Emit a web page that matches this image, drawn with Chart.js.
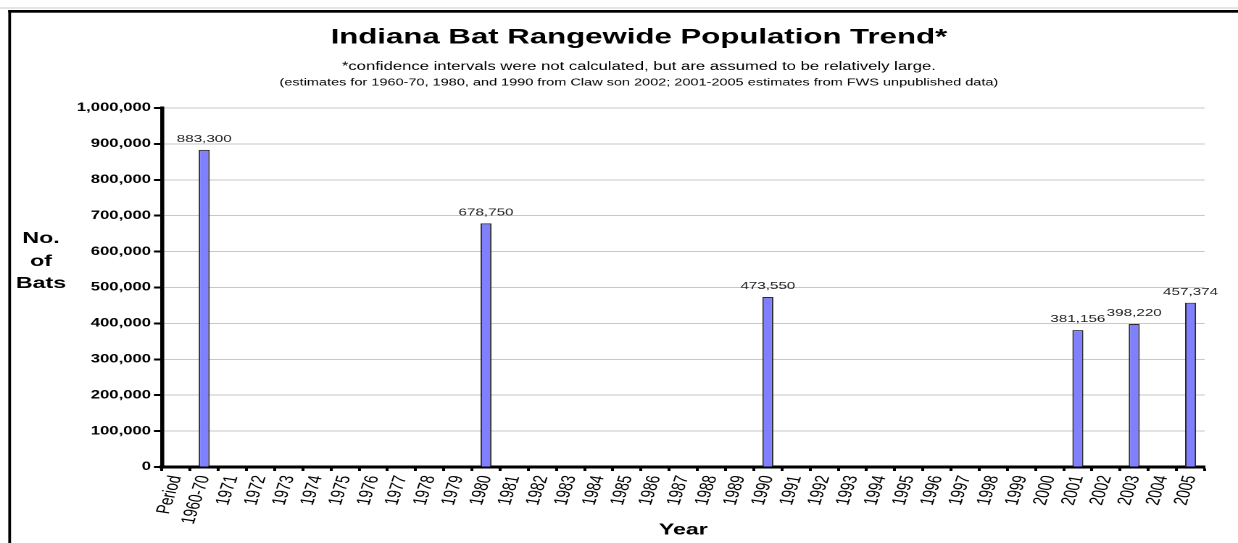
<!DOCTYPE html>
<html>
<head>
<meta charset="utf-8">
<script src="https://cdn.jsdelivr.net/npm/chart.js@4.4.1/dist/chart.umd.min.js"></script>
<style>
  html, body { margin: 0; padding: 0; background: #fff; overflow: hidden; }
  canvas { display: block; }
</style>
</head>
<body>
<!-- the original picture is a stretched Excel chart, so the canvas is drawn narrow and widened by css -->
<canvas id="myChart" width="854" height="543" style="width:1238px;height:543px"></canvas>
<script>
// Categories along the x axis
var categories = ['Period', '1960-70', '1971', '1972', '1973', '1974', '1975', '1976', '1977', '1978',
                  '1979', '1980', '1981', '1982', '1983', '1984', '1985', '1986', '1987', '1988',
                  '1989', '1990', '1991', '1992', '1993', '1994', '1995', '1996', '1997', '1998',
                  '1999', '2000', '2001', '2002', '2003', '2004', '2005'];

// Years that have an estimate, and the estimates themselves
var estimateYears = ['1960-70', '1980', '1990', '2001', '2003', '2005'];
var batCounts = [883300, 678750, 473550, 381156, 398220, 457374];

// Y axis range
var yMin = 0;
var yMax = 1000000;
var yStep = 100000;

var FONT = "'Liberation Sans', Arial, sans-serif";

// Line the estimates up with the categories (empty years stay null)
var barData = categories.map(function (c) {
    var i = estimateYears.indexOf(c);
    return i >= 0 ? batCounts[i] : null;
});

// Frame, titles, y label and the value labels above the bars
var decorations = {
    id: 'decorations',
    beforeDraw: function (chart) {
        var ctx = chart.ctx;
        ctx.save();
        ctx.fillStyle = '#fff';
        ctx.fillRect(0, 0, chart.width, chart.height);
        ctx.fillStyle = '#cccccc';
        ctx.fillRect(0, 7.5, chart.width, 1);
        ctx.fillStyle = '#000';
        ctx.fillRect(5.7, 10, chart.width, 2.7);
        ctx.fillRect(5.7, 10, 1.9, chart.height);
        ctx.restore();
    },
    afterDatasetsDraw: function (chart) {
        var ctx = chart.ctx;
        var meta = chart.getDatasetMeta(0);
        ctx.save();
        ctx.font = '10.5px ' + FONT;
        ctx.fillStyle = '#222';
        ctx.textAlign = 'center';
        ctx.textBaseline = 'alphabetic';
        meta.data.forEach(function (bar, i) {
            var v = chart.data.datasets[0].data[i];
            if (v == null) return;
            ctx.fillText(v.toLocaleString('en-US'), bar.x, bar.y - 8);
        });
        ctx.restore();
    },
    afterDraw: function (chart) {
        var ctx = chart.ctx;
        var cx = 440.7;
        ctx.save();
        ctx.fillStyle = '#000';
        ctx.textAlign = 'center';
        ctx.textBaseline = 'alphabetic';

        ctx.font = 'bold 21.5px ' + FONT;
        ctx.fillText('Indiana Bat Rangewide Population Trend*', cx, 43.5);

        ctx.font = '11.5px ' + FONT;
        ctx.fillText('*confidence intervals were not calculated, but are assumed to be relatively large.', cx, 70);

        ctx.font = '10px ' + FONT;
        ctx.fillText('(estimates for 1960-70, 1980, and 1990 from Claw son 2002; 2001-2005 estimates from FWS unpublished data)', cx, 85.5);

        // horizontal y axis title
        ctx.font = 'bold 16px ' + FONT;
        ctx.fillText('No.', 28.3, 243);
        ctx.fillText('of', 28.3, 266);
        ctx.fillText('Bats', 28.3, 288);
        ctx.restore();
    }
};

var ctx = document.getElementById('myChart').getContext('2d');

var myChart = new Chart(ctx, {
    type: 'bar',
    data: {
        labels: categories,
        datasets: [{
            label: 'No. of Bats',
            data: barData,
            backgroundColor: '#8080ff',
            borderColor: '#2a2a2a',
            borderWidth: 1,
            barPercentage: 0.39,
            categoryPercentage: 1
        }]
    },
    options: {
        responsive: false,
        animation: false,
        devicePixelRatio: 2,
        layout: { padding: { top: 108, left: 0, right: 23, bottom: 0 } },
        plugins: {
            legend: { display: false },
            tooltip: { enabled: false },
            title: { display: false }
        },
        scales: {
            x: {
                offset: true,
                grid: {
                    offset: true,
                    drawOnChartArea: false,
                    drawTicks: true,
                    tickLength: 4,
                    tickColor: '#000',
                    tickWidth: 2
                },
                border: { color: '#000', width: 3 },
                ticks: {
                    autoSkip: false,
                    minRotation: 77,
                    maxRotation: 77,
                    padding: 3,
                    color: '#000',
                    font: { family: FONT, size: 13.5 }
                },
                title: {
                    display: true,
                    text: 'Year',
                    color: '#000',
                    font: { family: FONT, size: 16, weight: 'bold' },
                    padding: { top: 0, bottom: 3.5 }
                },
                afterFit: function (scale) { scale.height = 76; }
            },
            y: {
                min: yMin,
                max: yMax,
                grid: {
                    color: '#c8c8c8',
                    lineWidth: 1,
                    tickLength: 5.5,
                    tickColor: '#000',
                    tickWidth: 2
                },
                border: { color: '#000', width: 2.8 },
                ticks: {
                    stepSize: yStep,
                    padding: 2,
                    color: '#000',
                    font: { family: FONT, size: 11.5, weight: 'bold' },
                    callback: function (v) { return v.toLocaleString('en-US'); }
                },
                afterFit: function (scale) { scale.width = 111.7; }
            }
        }
    },
    plugins: [decorations]
});
</script>
</body>
</html>
